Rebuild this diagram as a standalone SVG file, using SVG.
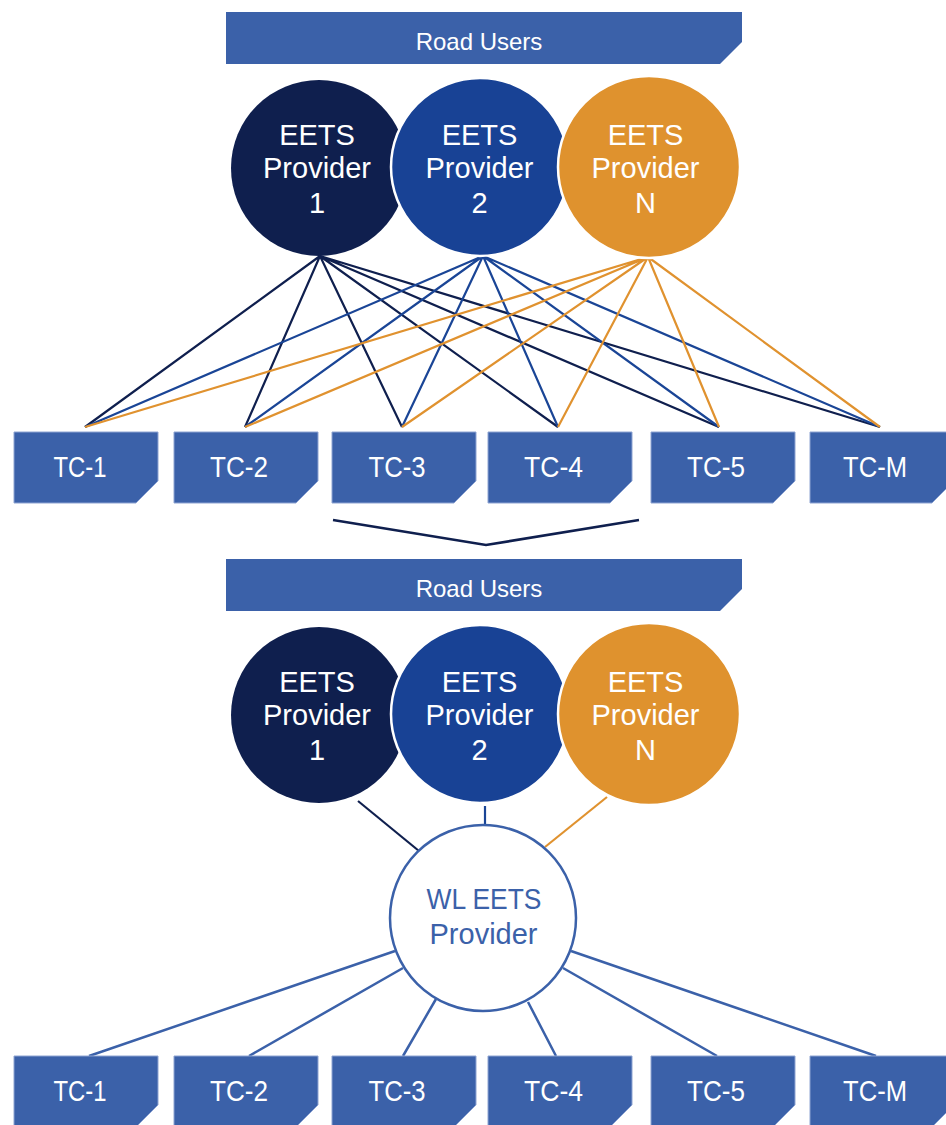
<svg xmlns="http://www.w3.org/2000/svg" width="946" height="1125" viewBox="0 0 946 1125">
<style>
.bn{fill:#3B61A9}
.tc{fill:#3B61A9;stroke:#8EA4D2;stroke-width:1}
.t{font-family:"Liberation Sans",Arial,sans-serif;fill:#fff;text-anchor:middle}
.bt{font-size:24px}
.ct{font-size:29px}
.lt{font-size:29px}
.wl{font-family:"Liberation Sans",Arial,sans-serif;fill:#3B61A9;text-anchor:middle;font-size:29px}
.d{stroke:#0F1F4E;stroke-width:2.2;fill:none}
.b{stroke:#1A4596;stroke-width:2.2;fill:none}
.o{stroke:#E0922F;stroke-width:2.2;fill:none}
.w{stroke:#3B61A9;stroke-width:2.5;fill:none}
</style>
<rect width="946" height="1125" fill="#fff"/>
<g id="connectors">
<!-- top: provider 1 -->
<path class="d" d="M320 256L85 427M320 256L245 427M320 256L402 427M320 256L558 427M320 256L719 427M320 256L880 427"/>
<path class="b" d="M483 256L85 427M483 256L245 427M483 256L402 427M483 256L558 427M483 256L719 427M483 256L880 427"/>
<path class="o" d="M648 257L85 427M648 257L245 427M648 257L402 427M648 257L558 427M648 257L719 427M648 257L880 427"/>
<path d="M333 520L486 545L639 520" stroke="#0F1F4E" stroke-width="2.6" fill="none"/>
<path class="d" d="M358 801L419 851"/>
<path class="b" d="M485 806L485 825"/>
<path class="o" d="M607 797L545 847"/>
<path class="w" d="M395 951L89 1056M403 968L249 1056M436 999L403 1056M528 1002L556 1056M563 968L717 1056M571 951L876 1056"/>
</g>
<g id="banner-top">
<polygon class="bn" points="226,12 742,12 742,42 720,64 226,64"/>
<text class="t bt" x="479" y="50">Road Users</text>
</g>
<g id="p1-top">
<circle cx="319" cy="168" r="88" fill="#0F1F4E"/>
<text class="t ct" x="317" y="145">EETS</text>
<text class="t ct" x="317" y="178">Provider</text>
<text class="t ct" x="317" y="213">1</text>
</g>
<g id="p2-top">
<circle cx="480" cy="167" r="89" fill="#184295" stroke="#fff" stroke-width="2.5"/>
<text class="t ct" x="479.5" y="145">EETS</text>
<text class="t ct" x="479.5" y="178">Provider</text>
<text class="t ct" x="479.5" y="213">2</text>
</g>
<g id="pN-top">
<circle cx="649" cy="167" r="91" fill="#DF922E" stroke="#fff" stroke-width="2.5"/>
<text class="t ct" x="645.5" y="145">EETS</text>
<text class="t ct" x="645.5" y="178">Provider</text>
<text class="t ct" x="645.5" y="213">N</text>
</g>
<g id="tc1-top"><polygon class="tc" points="14,432 158,432 158,481 136,503 14,503"/><text class="t lt" x="80" y="477" textLength="53" lengthAdjust="spacingAndGlyphs">TC-1</text></g>
<g id="tc2-top"><polygon class="tc" points="174,432 318,432 318,481 296,503 174,503"/><text class="t lt" x="239" y="477" textLength="58" lengthAdjust="spacingAndGlyphs">TC-2</text></g>
<g id="tc3-top"><polygon class="tc" points="332,432 476,432 476,481 454,503 332,503"/><text class="t lt" x="397" y="477" textLength="57" lengthAdjust="spacingAndGlyphs">TC-3</text></g>
<g id="tc4-top"><polygon class="tc" points="488,432 632,432 632,481 610,503 488,503"/><text class="t lt" x="553.5" y="477" textLength="59" lengthAdjust="spacingAndGlyphs">TC-4</text></g>
<g id="tc5-top"><polygon class="tc" points="651,432 795,432 795,481 773,503 651,503"/><text class="t lt" x="716" y="477" textLength="58" lengthAdjust="spacingAndGlyphs">TC-5</text></g>
<g id="tcM-top"><polygon class="tc" points="810,432 954,432 954,481 932,503 810,503"/><text class="t lt" x="875" y="477" textLength="64" lengthAdjust="spacingAndGlyphs">TC-M</text></g>
<g id="banner-bottom">
<polygon class="bn" points="226,559 742,559 742,589 720,611 226,611"/>
<text class="t bt" x="479" y="597">Road Users</text>
</g>
<g id="p1-bottom">
<circle cx="319" cy="715" r="88" fill="#0F1F4E"/>
<text class="t ct" x="317" y="692">EETS</text>
<text class="t ct" x="317" y="725">Provider</text>
<text class="t ct" x="317" y="760">1</text>
</g>
<g id="p2-bottom">
<circle cx="480" cy="714" r="89" fill="#184295" stroke="#fff" stroke-width="2.5"/>
<text class="t ct" x="479.5" y="692">EETS</text>
<text class="t ct" x="479.5" y="725">Provider</text>
<text class="t ct" x="479.5" y="760">2</text>
</g>
<g id="pN-bottom">
<circle cx="649" cy="714" r="91" fill="#DF922E" stroke="#fff" stroke-width="2.5"/>
<text class="t ct" x="645.5" y="692">EETS</text>
<text class="t ct" x="645.5" y="725">Provider</text>
<text class="t ct" x="645.5" y="760">N</text>
</g>
<g id="wl">
<circle cx="483" cy="918" r="93" fill="#fff" stroke="#3B61A9" stroke-width="2.5"/>
<text class="wl" x="484" y="909" textLength="115" lengthAdjust="spacingAndGlyphs">WL EETS</text>
<text class="wl" x="483.5" y="944">Provider</text>
</g>
<g id="tc1-bottom"><polygon class="tc" points="14,1056 158,1056 158,1105 136,1127 14,1127"/><text class="t lt" x="80" y="1101" textLength="53" lengthAdjust="spacingAndGlyphs">TC-1</text></g>
<g id="tc2-bottom"><polygon class="tc" points="174,1056 318,1056 318,1105 296,1127 174,1127"/><text class="t lt" x="239" y="1101" textLength="58" lengthAdjust="spacingAndGlyphs">TC-2</text></g>
<g id="tc3-bottom"><polygon class="tc" points="332,1056 476,1056 476,1105 454,1127 332,1127"/><text class="t lt" x="397" y="1101" textLength="57" lengthAdjust="spacingAndGlyphs">TC-3</text></g>
<g id="tc4-bottom"><polygon class="tc" points="488,1056 632,1056 632,1105 610,1127 488,1127"/><text class="t lt" x="553.5" y="1101" textLength="59" lengthAdjust="spacingAndGlyphs">TC-4</text></g>
<g id="tc5-bottom"><polygon class="tc" points="651,1056 795,1056 795,1105 773,1127 651,1127"/><text class="t lt" x="716" y="1101" textLength="58" lengthAdjust="spacingAndGlyphs">TC-5</text></g>
<g id="tcM-bottom"><polygon class="tc" points="810,1056 954,1056 954,1105 932,1127 810,1127"/><text class="t lt" x="875" y="1101" textLength="64" lengthAdjust="spacingAndGlyphs">TC-M</text></g>
</svg>
